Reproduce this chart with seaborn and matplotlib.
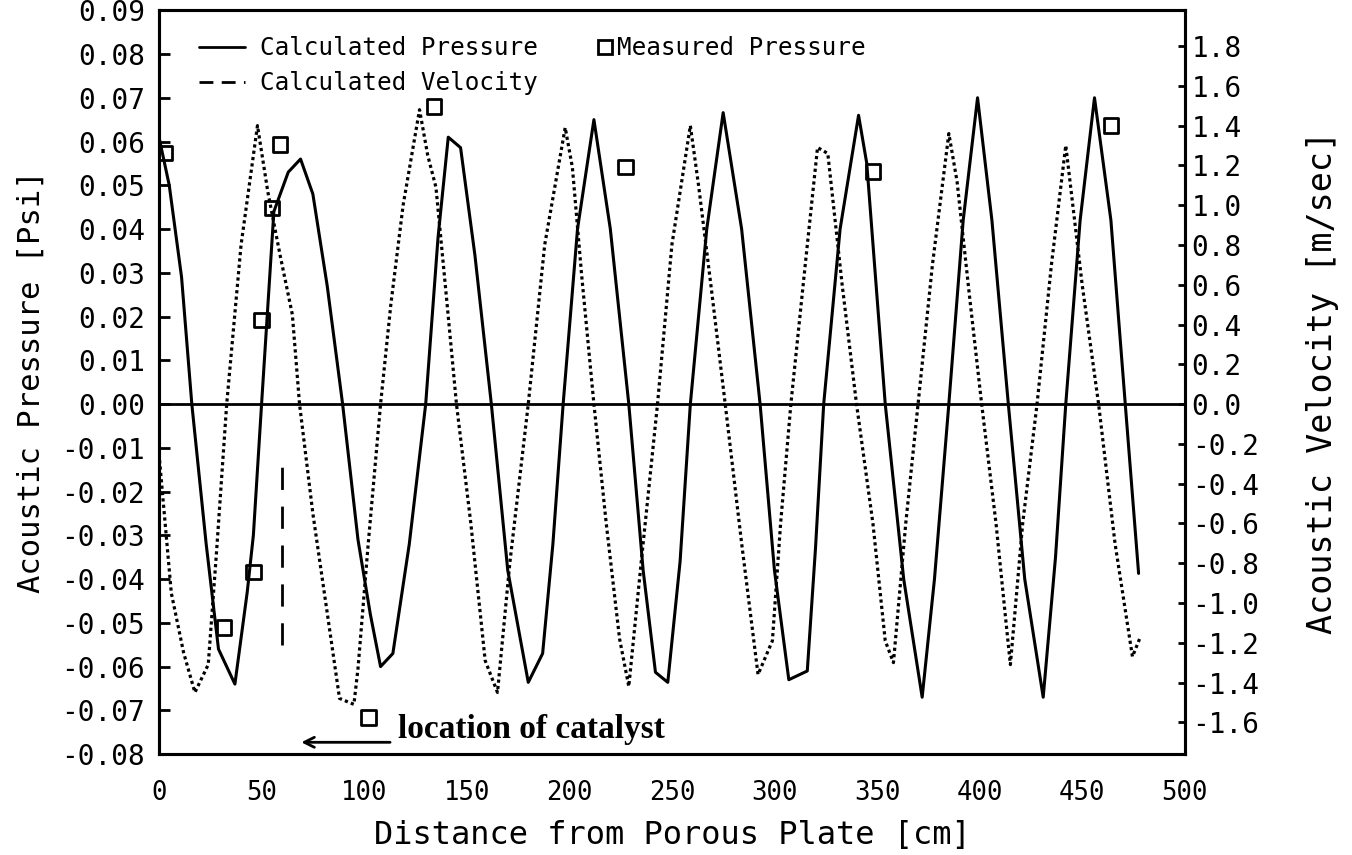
import numpy as np
import matplotlib
matplotlib.use("Agg")
import matplotlib.pyplot as plt
from matplotlib.lines import Line2D
import seaborn as sns

# calculated pressure (solid) [cm, psi]
p_x = [0, 5, 11, 16, 23, 29, 37, 43, 46, 50, 56, 63, 69, 75, 82, 89.5, 97, 103, 108, 114,
       122, 130, 136, 141, 147, 154, 162, 170, 180, 187, 192, 197, 204, 212, 220, 229, 236,
       242, 248, 254, 259, 267, 275, 284, 293, 300, 307, 316, 320, 324, 332, 341, 345, 354,
       363, 372, 378, 385, 392, 399, 406, 414, 422, 431, 437, 442, 449, 456, 464, 471, 477.5]
p_y = [0.061, 0.050, 0.029, 0.0, -0.032, -0.056, -0.064, -0.043, -0.030, 0.0, 0.044, 0.053,
       0.056, 0.048, 0.027, 0.0, -0.031, -0.048, -0.060, -0.057, -0.032, 0.0, 0.038, 0.061,
       0.0586, 0.034, 0.0, -0.038, -0.0636, -0.057, -0.032, 0.0, 0.040, 0.065, 0.040, 0.0,
       -0.038, -0.0613, -0.0636, -0.036, 0.0, 0.040, 0.0666, 0.040, 0.0, -0.038, -0.063,
       -0.061, -0.033, 0.0, 0.040, 0.066, 0.055, 0.0, -0.040, -0.067, -0.040, 0.0, 0.042,
       0.070, 0.042, 0.0, -0.040, -0.067, -0.035, 0.0, 0.042, 0.070, 0.042, 0.0, -0.0387]

# calculated velocity (dotted, right axis) [cm, m/sec]
v_x = [0, 3, 6, 12, 17.5, 24, 28, 33, 40, 48, 53, 59, 65, 68.5, 75, 82, 88, 95, 97, 102,
       108, 113, 119, 127, 131, 135, 140, 145, 152, 159, 165, 171, 180, 188, 198, 201.5, 206,
       212, 218, 224.5, 229, 235, 243, 250, 259, 263, 269, 276, 284, 292, 299, 303, 308, 315,
       321, 326, 333, 340, 348, 354, 358, 364, 370, 377, 385, 389, 395, 401, 408, 413, 415,
       421, 428, 435, 442, 450, 458, 466, 474.5, 478]
v_y = [-0.25, -0.6, -0.95, -1.25, -1.45, -1.31, -0.75, 0.0, 0.8, 1.40, 1.07, 0.75, 0.45,
       0.0, -0.55, -1.05, -1.48, -1.51, -1.33, -0.7, 0.0, 0.5, 1.0, 1.48, 1.25, 1.09, 0.55,
       0.0, -0.6, -1.29, -1.45, -0.8, 0.0, 0.8, 1.39, 1.19, 0.65, 0.0, -0.6, -1.18, -1.42,
       -0.8, 0.0, 0.8, 1.40, 1.1, 0.6, 0.0, -0.7, -1.36, -1.19, -0.6, 0.0, 0.7, 1.29, 1.26,
       0.6, 0.0, -0.6, -1.19, -1.30, -0.6, 0.0, 0.7, 1.36, 1.12, 0.55, 0.0, -0.6, -1.11,
       -1.31, -0.6, 0.0, 0.7, 1.30, 0.6, 0.0, -0.7, -1.27, -1.18]

# measured pressure (squares)
m_x = [3, 31.6, 46, 50, 55, 59, 102, 134, 227.5, 348, 464]
m_y = [0.0574, -0.051, -0.0384, 0.0192, 0.0448, 0.0593, -0.0716, 0.068, 0.0542, 0.0531, 0.0636]

# catalyst marker
catalyst_x = 60
catalyst_top, catalyst_bottom = -0.012, -0.055
arrow_from, arrow_to, arrow_level = 114, 68, -0.0773
note_x, note_y = 116.5, -0.0764

x_ticks = [0, 50, 100, 150, 200, 250, 300, 350, 400, 450, 500]
p_ticks = [0.09, 0.08, 0.07, 0.06, 0.05, 0.04, 0.03, 0.02, 0.01, 0.0,
           -0.01, -0.02, -0.03, -0.04, -0.05, -0.06, -0.07, -0.08]
p_labels = ["0.09", "0.08", "0.07", "0.06", "0.05", "0.04", "0.03", "0.02", "0.01", "0.00",
            "-0.01", "-0.02", "-0.03", "-0.04", "-0.05", "-0.06", "-0.07", "-0.08"]
v_ticks = [1.8, 1.6, 1.4, 1.2, 1.0, 0.8, 0.6, 0.4, 0.2, 0.0,
           -0.2, -0.4, -0.6, -0.8, -1.0, -1.2, -1.4, -1.6]
v_labels = ["1.8", "1.6", "1.4", "1.2", "1.0", "0.8", "0.6", "0.4", "0.2", "0.0",
            "-0.2", "-0.4", "-0.6", "-0.8", "-1.0", "-1.2", "-1.4", "-1.6"]

sns.set_style("white")
plt.rcParams["font.family"] = ["DejaVu Sans Mono"]
plt.rcParams["axes.unicode_minus"] = False
plt.rcParams["text.color"] = "black"
plt.rcParams["axes.labelcolor"] = "black"
plt.rcParams["xtick.color"] = "black"
plt.rcParams["ytick.color"] = "black"

fig = plt.figure(figsize=(13.52, 8.55), dpi=100)
ax = fig.add_axes([0.1176, 0.118, 0.7587, 0.870])
ax2 = ax.twinx()

ax.axhline(0, color="k", lw=2)
sns.lineplot(x=p_x, y=p_y, ax=ax, color="k", lw=2.2, estimator=None, sort=False)
sns.scatterplot(x=m_x, y=m_y, ax=ax, marker="s", s=110, facecolor="none",
                edgecolor="k", linewidth=2, zorder=5)
ax.vlines(catalyst_x, catalyst_bottom, catalyst_top, colors="k", lw=2,
          linestyles=(0, (8, 6)))
ax.annotate("", xy=(arrow_to, arrow_level), xytext=(arrow_from, arrow_level),
            arrowprops=dict(arrowstyle="->", color="k", lw=2, mutation_scale=18))
ax.text(note_x, note_y, "location of catalyst", family="Liberation Serif",
        weight="bold", fontsize=24, va="baseline", ha="left", color="black")

sns.lineplot(x=v_x, y=v_y, ax=ax2, color="k", lw=2.3, estimator=None, sort=False,
             linestyle=(0, (1, 1)))

ax.set_xlim(0, 500)
ax.set_ylim(-0.08, 0.09)
ax2.set_ylim(-1.76, 1.98)

ax.set_xticks(x_ticks)
ax.set_xticklabels([str(t) for t in x_ticks])
ax.set_yticks(p_ticks)
ax.set_yticklabels(p_labels)
ax2.set_yticks(v_ticks)
ax2.set_yticklabels(v_labels)

ax.tick_params(axis="x", length=0, pad=19, labelsize=18.5, labelcolor="black")
ax.tick_params(axis="y", direction="in", length=8, width=2, pad=10, labelsize=20,
               left=True, color="black", labelcolor="black")
ax2.tick_params(axis="y", direction="in", length=5, width=2, pad=5, labelsize=20,
                right=True, color="black", labelcolor="black")

for a in (ax, ax2):
    for s in a.spines.values():
        s.set_linewidth(2.2)
        s.set_color("k")

ax.set_xlabel("Distance from Porous Plate [cm]", fontsize=23, labelpad=10, color="black")
ax.set_ylabel("Acoustic Pressure [Psi]", fontsize=22, labelpad=11, color="black")
ax2.set_ylabel("Acoustic Velocity [m/sec]", fontsize=24, labelpad=34, color="black")

h1 = [Line2D([], [], color="k", lw=2), Line2D([], [], color="k", lw=2, ls=(0, (5, 3)))]
leg1 = ax.legend(h1, ["Calculated Pressure", "Calculated Velocity"], loc="upper left",
                 bbox_to_anchor=(0.039, 0.965), frameon=False, fontsize=17.5,
                 handlelength=1.9, handletextpad=0.6, labelspacing=0.45,
                 borderpad=0, borderaxespad=0, labelcolor="black")
ax.add_artist(leg1)
h2 = [Line2D([], [], color="k", ls="none", marker="s", mfc="none", mew=2, ms=10)]
ax.legend(h2, ["Measured Pressure"], loc="upper left", bbox_to_anchor=(0.428, 0.965),
          frameon=False, fontsize=17.5, handlelength=0.6, handletextpad=0.2,
          borderpad=0, borderaxespad=0, labelcolor="black")

fig.savefig("out.png", dpi=100)
